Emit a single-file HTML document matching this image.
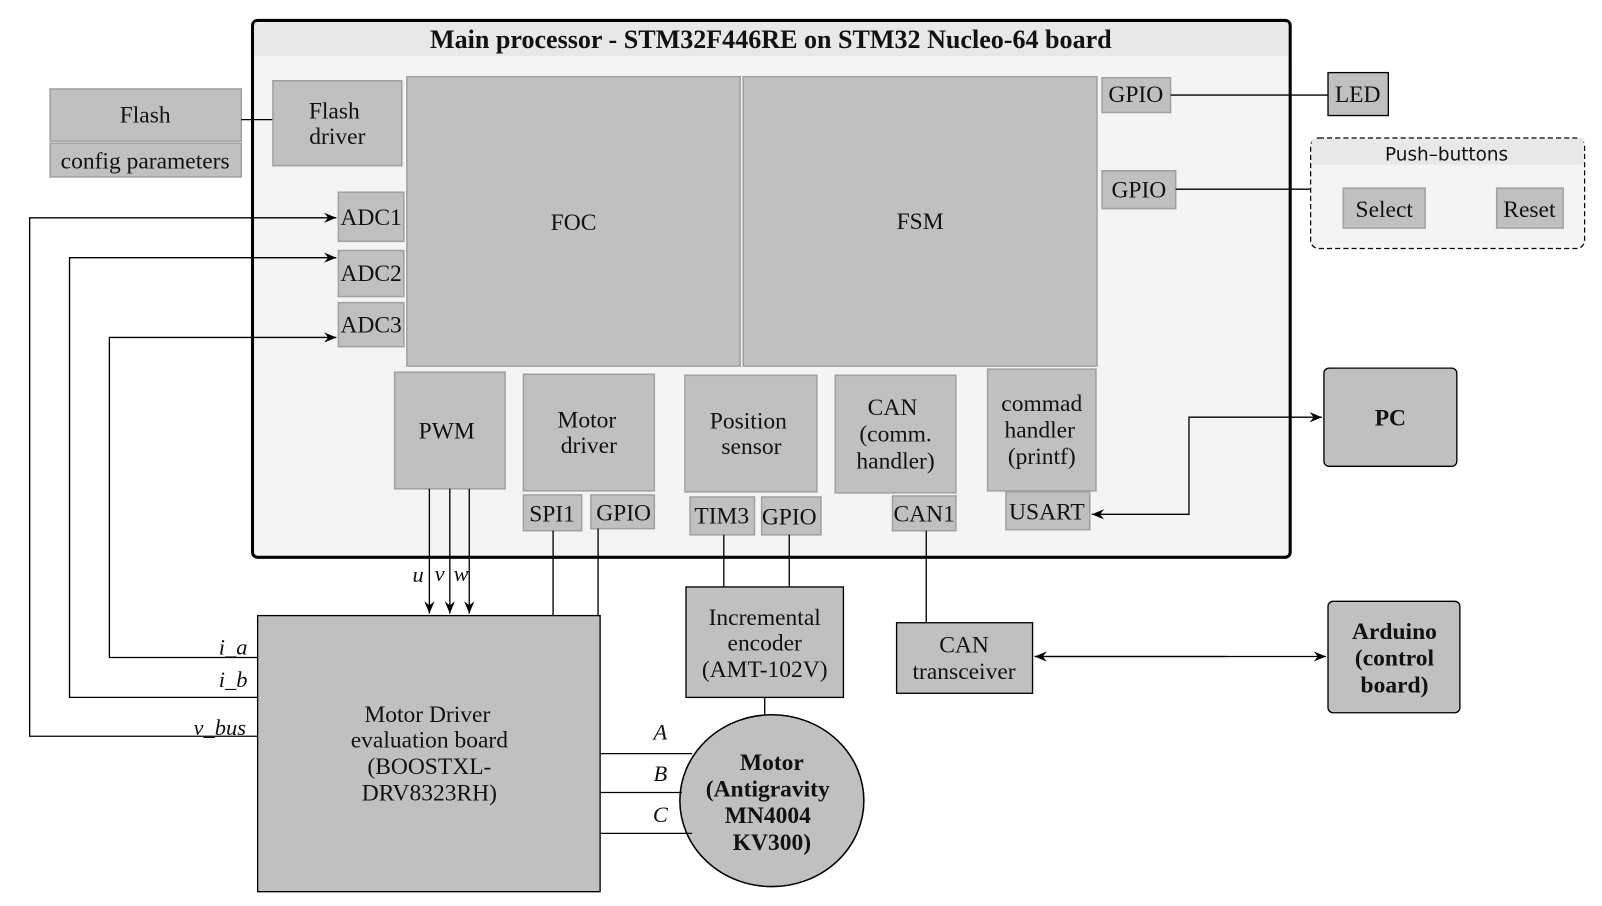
<!DOCTYPE html>
<html><head><meta charset="utf-8"><style>
html,body{margin:0;padding:0;background:#fff;}
svg{display:block;font-family:"Liberation Serif",serif;}
.b{fill:#c0c0c0;stroke:#a0a0a0;stroke-width:1.5}
.o{fill:#c0c0c0;stroke:#000;stroke-width:1.3}
.l{stroke:#000;stroke-width:1.3;fill:none}
text{font-size:23px;fill:#111;text-anchor:middle}
.i{font-style:italic;font-size:22px}
.bd{font-weight:bold}
</style></head><body>
<svg width="1602" height="906" viewBox="0 0 1567 886" preserveAspectRatio="none" xmlns="http://www.w3.org/2000/svg">
<defs><marker id="a" viewBox="0 0 12 10" refX="12" refY="5" markerWidth="12" markerHeight="10" orient="auto" markerUnits="userSpaceOnUse"><path d="M0,0 L12,5 L0,10 L4,5 z" fill="#000"/></marker></defs>
<rect x="247" y="20" width="1015" height="525" rx="5" fill="#f4f4f4" stroke="#000" stroke-width="3"/>
<rect x="249" y="22" width="1011" height="33" fill="#e8e8e8"/>
<text x="754" y="47" class="bd" style="font-size:25.5px">Main processor - STM32F446RE on STM32 Nucleo-64 board</text>
<rect x="49" y="87" width="187" height="51" class="b"/><text x="142" y="120">Flash</text>
<rect x="49" y="140" width="187" height="33" class="b"/><text x="142" y="165">config parameters</text>
<path class="l" d="M236,117 H267"/>
<rect x="267" y="79" width="126" height="83" class="b"/><text x="327" y="116">Flash</text><text x="330" y="141">driver</text>
<rect x="331" y="188" width="64" height="48" class="b"/><text x="363" y="220">ADC1</text>
<rect x="331" y="245" width="64" height="45" class="b"/><text x="363" y="275">ADC2</text>
<rect x="331" y="296" width="64" height="43" class="b"/><text x="363" y="325">ADC3</text>
<rect x="398" y="75" width="326" height="283" class="b"/><text x="561" y="225">FOC</text>
<rect x="727" y="75" width="346" height="283" class="b"/><text x="900" y="224">FSM</text>
<rect x="1078" y="76" width="67" height="34" class="b"/><text x="1111" y="100">GPIO</text>
<rect x="1078" y="167" width="72" height="37" class="b"/><text x="1114" y="193">GPIO</text>
<rect x="386" y="364" width="108" height="114" class="b"/><text x="437" y="429">PWM</text>
<rect x="512" y="366" width="128" height="114" class="b"/><text x="574" y="418">Motor</text><text x="576" y="443">driver</text>
<rect x="670" y="367" width="129" height="114" class="b"/><text x="732" y="419">Position</text><text x="735" y="444">sensor</text>
<rect x="817" y="367" width="118" height="115" class="b"/><text x="873" y="406">CAN</text><text x="876" y="432">(comm.</text><text x="876" y="458">handler)</text>
<rect x="966" y="361" width="106" height="119" class="b"/><text x="1019" y="402">commad</text><text x="1017" y="428">handler</text><text x="1019" y="454">(printf)</text>
<rect x="512" y="484" width="57" height="35" class="b"/><text x="540" y="510">SPI1</text>
<rect x="578" y="484" width="62" height="33" class="b"/><text x="610" y="509">GPIO</text>
<rect x="675" y="486" width="63" height="37" class="b"/><text x="706" y="512">TIM3</text>
<rect x="745" y="486" width="58" height="37" class="b"/><text x="772" y="513">GPIO</text>
<rect x="873" y="485" width="62" height="34" class="b"/><text x="904" y="510">CAN1</text>
<rect x="984" y="481" width="82" height="37" class="b"/><text x="1024" y="508">USART</text>
<rect x="1299" y="71" width="59" height="42" class="o"/><text x="1328" y="100">LED</text>
<path class="l" d="M1145,93 H1299"/>
<rect x="1282" y="135" width="268" height="108" rx="8" fill="#f4f4f4" stroke="#000" stroke-width="1.2" stroke-dasharray="5,3"/>
<rect x="1283" y="136" width="266" height="25" fill="#e8e8e8"/>
<text x="1415" y="157" style="font-family:'DejaVu Sans',sans-serif;font-size:18px">Push–buttons</text>
<rect x="1314" y="184" width="80" height="39" class="b"/><text x="1354" y="212">Select</text>
<rect x="1464" y="184" width="65" height="39" class="b"/><text x="1496" y="212">Reset</text>
<path class="l" d="M1150,185 H1282"/>
<rect x="1295" y="360" width="130" height="96" rx="5" class="o"/><text x="1360" y="416" class="bd">PC</text>
<path class="l" d="M1068,503 H1163 V408 H1293" marker-end="url(#a)"/>
<path class="l" d="M1163,503 H1068" marker-end="url(#a)"/>
<rect x="1299" y="588" width="129" height="109" rx="5" class="o"/><text x="1364" y="625" class="bd">Arduino</text><text x="1364" y="651" class="bd">(control</text><text x="1364" y="677" class="bd">board)</text>
<rect x="877" y="609" width="133" height="69" class="o"/><text x="943" y="638">CAN</text><text x="943" y="664">transceiver</text>
<path class="l" d="M1012,642 H1297" marker-end="url(#a)"/>
<path class="l" d="M1200,642 H1012" marker-end="url(#a)"/>
<path class="l" d="M906,519 V609"/>
<rect x="671" y="574" width="154" height="108" class="o"/><text x="748" y="611">Incremental</text><text x="748" y="636">encoder</text><text x="748" y="662">(AMT-102V)</text>
<path class="l" d="M708,523 V574 M772,523 V574 M748,682 V701"/>
<ellipse cx="755" cy="783" rx="90" ry="84" fill="#c0c0c0" stroke="#000" stroke-width="1.5"/>
<text x="755" y="753" class="bd">Motor</text><text x="751" y="779" class="bd">(Antigravity</text><text x="751" y="805" class="bd">MN4004</text><text x="755" y="831" class="bd">KV300)</text>
<rect x="252" y="602" width="335" height="270" class="o"/>
<text x="418" y="706">Motor Driver</text><text x="420" y="731">evaluation board</text><text x="420" y="757">(BOOSTXL-</text><text x="420" y="783">DRV8323RH)</text>
<path class="l" d="M587,737 H677 M587,775 H667 M587,815 H677"/>
<text x="646" y="723" class="i">A</text><text x="646" y="764" class="i">B</text><text x="646" y="804" class="i">C</text>
<path class="l" d="M541,519 V602 M585,517 V602"/>
<path class="l" d="M420,478 V600" marker-end="url(#a)"/>
<path class="l" d="M440,478 V600" marker-end="url(#a)"/>
<path class="l" d="M459,478 V600" marker-end="url(#a)"/>
<text x="409" y="569" class="i">u</text><text x="430" y="568" class="i">v</text><text x="451" y="568" class="i">w</text>
<path class="l" d="M252,720 H29 V213 H329" marker-end="url(#a)"/>
<path class="l" d="M252,682 H68 V252 H329" marker-end="url(#a)"/>
<path class="l" d="M252,643 H107 V330 H329" marker-end="url(#a)"/>
<text x="228" y="640" class="i">i_a</text><text x="228" y="672" class="i">i_b</text><text x="215" y="719" class="i">v_bus</text>
</svg>
</body></html>
